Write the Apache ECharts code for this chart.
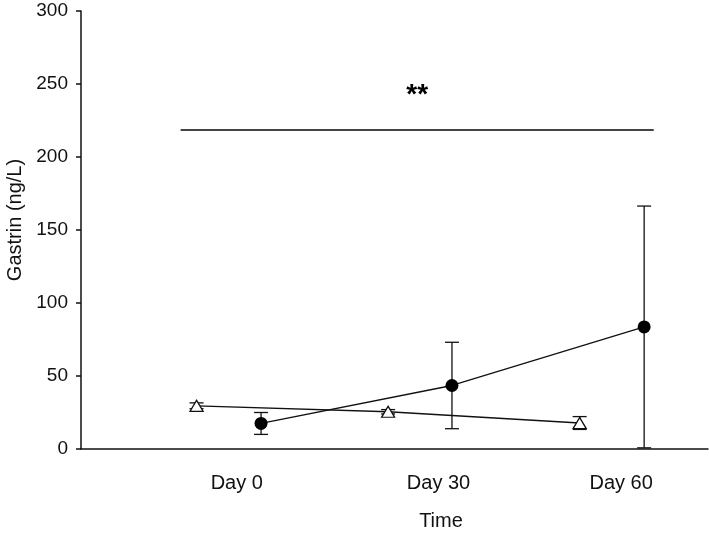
<!DOCTYPE html>
<html>
<head>
<meta charset="utf-8">
<script src="https://cdn.jsdelivr.net/npm/echarts@6/dist/echarts.min.js"></script>
<style>
  html, body { margin: 0; padding: 0; background: #fff; }
  #main { width: 709px; height: 534px; }
</style>
</head>
<body>
<div id="main"></div>
<script>
// category labels and where they sit on the time axis (days)
var dayLabels = ['Day 0', 'Day 30', 'Day 60']
var labelPos = [0, 31.6, 60.2]

// open triangles (dodged left of each day)
var triX = [-6.3, 23.7, 53.7]
var triMean = [29.6, 25.5, 17.8]
var triErr = [2, 1.5, 4.4]

// filled circles (dodged right of each day)
var circX = [3.8, 33.7, 63.8]
var circMean = [17.5, 43.5, 83.6]
var circErr = [7.5, 29.6, 82.8]

var yTicks = [0, 50, 100, 150, 200, 250, 300]

// significance bar
var sigY = 219
var sigFrom = -8.8
var sigTo = 65.3
var sigText = '**'

var font = 'Liberation Sans, Arial, sans-serif'

function pairs (xs, ys) {
  return xs.map(function (x, i) { return [x, ys[i]] })
}
function errData (xs, ms, es) {
  return xs.map(function (x, i) { return [x, ms[i] - es[i], ms[i] + es[i]] })
}

function renderErr (params, api) {
  var x = api.value(0)
  var lo = api.coord([x, api.value(1)])
  var hi = api.coord([x, api.value(2)])
  var half = 7
  var style = { stroke: '#111', lineWidth: 1.3 }
  return {
    type: 'group',
    children: [
      { type: 'line', shape: { x1: lo[0], y1: lo[1], x2: hi[0], y2: hi[1] }, style: style },
      { type: 'line', shape: { x1: lo[0] - half, y1: lo[1], x2: lo[0] + half, y2: lo[1] }, style: style },
      { type: 'line', shape: { x1: hi[0] - half, y1: hi[1], x2: hi[0] + half, y2: hi[1] }, style: style }
    ]
  }
}

var myChart = echarts.init(document.getElementById('main'))
myChart.setOption({
  animation: false,
  grid: { left: 81, right: 1, top: 11, bottom: 85, containLabel: false, outerBoundsMode: 'none' },
  xAxis: {
    type: 'value',
    min: -24.4,
    max: 73.8,
    name: 'Time',
    nameLocation: 'middle',
    nameGap: 62,
    nameTextStyle: { fontFamily: font, fontSize: 20, color: '#111', padding: [0, 0, 0, 93] },
    axisLine: { show: true, lineStyle: { color: '#111', width: 1.5 } },
    axisTick: { show: false },
    splitLine: { show: false },
    axisLabel: {
      customValues: labelPos,
      margin: 24,
      fontFamily: font,
      fontSize: 20,
      color: '#111',
      formatter: function (v) {
        var i = labelPos.indexOf(v)
        return i >= 0 ? dayLabels[i] : ''
      }
    }
  },
  yAxis: {
    type: 'value',
    min: yTicks[0],
    max: yTicks[yTicks.length - 1],
    interval: 50,
    name: 'Gastrin (ng/L)',
    nameLocation: 'middle',
    nameGap: 55,
    nameTextStyle: { fontFamily: font, fontSize: 20, color: '#111', padding: [0, 0, 0, 20] },
    axisLine: { show: true, onZero: false, lineStyle: { color: '#111', width: 1.5 } },
    axisTick: { show: true, length: 5, lineStyle: { color: '#111', width: 1.5 } },
    splitLine: { show: false },
    axisLabel: { margin: 13, fontFamily: font, fontSize: 19, color: '#111' }
  },
  series: [
    {
      type: 'custom',
      renderItem: renderErr,
      data: errData(circX, circMean, circErr),
      z: 1
    },
    {
      type: 'custom',
      renderItem: renderErr,
      data: errData(triX, triMean, triErr),
      z: 1
    },
    {
      type: 'line',
      data: pairs(circX, circMean),
      symbol: 'circle',
      symbolSize: 13,
      itemStyle: { color: '#000' },
      lineStyle: { color: '#111', width: 1.3 },
      z: 3
    },
    {
      type: 'line',
      data: pairs(triX, triMean),
      symbol: 'triangle',
      symbolSize: [13, 11],
      itemStyle: { color: '#fff', borderColor: '#111', borderWidth: 1.3 },
      lineStyle: { color: '#111', width: 1.3 },
      z: 3
    },
    {
      type: 'line',
      data: [],
      markLine: {
        silent: true,
        symbol: ['none', 'none'],
        lineStyle: { color: '#444', width: 1.8, type: 'solid' },
        label: {
          show: true,
          position: 'middle',
          formatter: sigText,
          distance: 20,
          fontFamily: font,
          fontSize: 28,
          fontWeight: 'bold',
          color: '#000'
        },
        data: [[{ coord: [sigFrom, sigY] }, { coord: [sigTo, sigY] }]]
      }
    }
  ]
})
</script>
</body>
</html>
